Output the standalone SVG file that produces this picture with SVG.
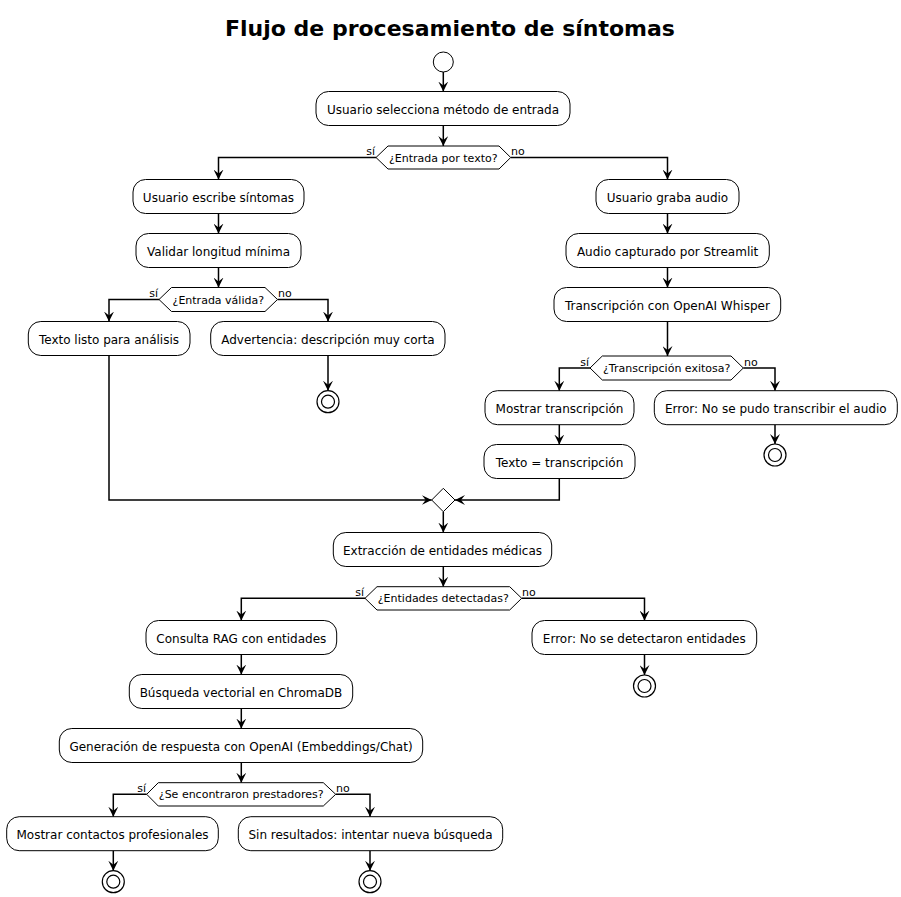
<svg xmlns="http://www.w3.org/2000/svg" width="901" height="897" viewBox="0 0 901 897">
<defs>
<marker id="arr" markerUnits="userSpaceOnUse" markerWidth="10" markerHeight="10" refX="10" refY="5" orient="auto">
<path d="M0,0 L10,5 L0,10 L4,5 Z" fill="#000"/>
</marker>
<style>
.box{fill:#fff;stroke:#000;stroke-width:1}
.dia{fill:#fff;stroke:#000;stroke-width:1}
.t{font-family:"DejaVu Sans",sans-serif;font-size:12px;fill:#000;text-anchor:middle}
.dt{font-family:"DejaVu Sans",sans-serif;font-size:11px;fill:#000;text-anchor:middle}
.lbl{font-family:"DejaVu Sans",sans-serif;font-size:11px;fill:#000}
.c{fill:none;stroke:#000;stroke-width:1.5;marker-end:url(#arr)}
.endo{fill:#fff;stroke:#000;stroke-width:1.2}
.endi{fill:#fff;stroke:#000;stroke-width:1.2}
</style>
</defs>
<rect width="901" height="897" fill="#fff"/>
<text x="450" y="36" font-family="DejaVu Sans, sans-serif" font-size="22" font-weight="bold" text-anchor="middle">Flujo de procesamiento de síntomas</text>

<g id="connectors">
<path class="c" d="M443.3,72 V91.5"/>
<path class="c" d="M443.3,125.5 V146"/>
<path class="c" d="M376,157.5 H218.5 V179.5"/>
<path class="c" d="M510.7,157.5 H667.5 V179.5"/>
<path class="c" d="M218.5,213.5 V233.5"/>
<path class="c" d="M218.5,267.5 V287.5"/>
<path class="c" d="M159,299.5 H109 V321.5"/>
<path class="c" d="M277.5,299.5 H328 V321.5"/>
<path class="c" d="M328,355.5 V390.7"/>
<path class="c" d="M109,355.5 V500 H431.7"/>
<path class="c" d="M667.5,213.5 V233.5"/>
<path class="c" d="M667.5,267.5 V287.5"/>
<path class="c" d="M667.5,321.5 V356"/>
<path class="c" d="M590,368 H559.3 V390.7"/>
<path class="c" d="M743.3,368 H775 V390.7"/>
<path class="c" d="M559.3,424.5 V444.5"/>
<path class="c" d="M559.3,478.5 V500 H455"/>
<path class="c" d="M775,424.5 V444"/>
<path class="c" d="M443.3,511.7 V532.5"/>
<path class="c" d="M443.3,566.5 V586.7"/>
<path class="c" d="M365,598.3 H241.3 V620.5"/>
<path class="c" d="M521.7,598.3 H644.5 V620.5"/>
<path class="c" d="M241.3,654.5 V674.5"/>
<path class="c" d="M241.3,708.5 V728.5"/>
<path class="c" d="M241.3,762.5 V782.7"/>
<path class="c" d="M146.7,794.3 H113.3 V816.7"/>
<path class="c" d="M335.7,794.3 H370 V816.7"/>
<path class="c" d="M644.5,654.5 V675"/>
<path class="c" d="M113.3,850.5 V870.7"/>
<path class="c" d="M370,850.5 V870.7"/>
<text class="lbl" x="375" y="155" text-anchor="end">sí</text>
<text class="lbl" x="511" y="155">no</text>
<text class="lbl" x="158" y="297" text-anchor="end">sí</text>
<text class="lbl" x="278" y="297">no</text>
<text class="lbl" x="589" y="366" text-anchor="end">sí</text>
<text class="lbl" x="744" y="366">no</text>
<text class="lbl" x="364" y="596" text-anchor="end">sí</text>
<text class="lbl" x="522" y="596">no</text>
<text class="lbl" x="146" y="792" text-anchor="end">sí</text>
<text class="lbl" x="336" y="792">no</text>
</g>

<g id="start"><circle cx="443.3" cy="62" r="10" class="box"/></g>

<g id="n1"><rect class="box" x="316" y="91.5" width="254" height="34" rx="12.5"/><text class="t" x="443" y="113.5">Usuario selecciona método de entrada</text></g>
<g id="d1"><polygon class="dia" points="376,157.5 388,146 499,146 510.7,157.5 499,169 388,169"/><text class="dt" x="443.3" y="161.5">¿Entrada por texto?</text></g>

<g id="n2"><rect class="box" x="133" y="179.5" width="171" height="34" rx="12.5"/><text class="t" x="218.5" y="201.5">Usuario escribe síntomas</text></g>
<g id="n3"><rect class="box" x="136" y="233.5" width="165" height="34" rx="12.5"/><text class="t" x="218.5" y="255.5">Validar longitud mínima</text></g>
<g id="d2"><polygon class="dia" points="159,299.5 171.5,287.5 265,287.5 277.5,299.5 265,311.5 171.5,311.5"/><text class="dt" x="218.3" y="303.5">¿Entrada válida?</text></g>
<g id="n4"><rect class="box" x="28.3" y="321.5" width="161.7" height="34" rx="12.5"/><text class="t" x="109" y="343.5">Texto listo para análisis</text></g>
<g id="n5"><rect class="box" x="210.7" y="321.5" width="234.3" height="34" rx="12.5"/><text class="t" x="327.9" y="343.5">Advertencia: descripción muy corta</text></g>
<g id="end1"><circle class="endo" cx="328" cy="401.7" r="11"/><circle class="endi" cx="328" cy="401.7" r="6.5"/></g>

<g id="n6"><rect class="box" x="596" y="179.5" width="143" height="34" rx="12.5"/><text class="t" x="667.5" y="201.5">Usuario graba audio</text></g>
<g id="n7"><rect class="box" x="566" y="233.5" width="203.3" height="34" rx="12.5"/><text class="t" x="667.6" y="255.5">Audio capturado por Streamlit</text></g>
<g id="n8"><rect class="box" x="554" y="287.5" width="226.7" height="34" rx="12.5"/><text class="t" x="667.4" y="309.5">Transcripción con OpenAI Whisper</text></g>
<g id="d3"><polygon class="dia" points="590,368 602.3,356 731,356 743.3,368 731,380 602.3,380"/><text class="dt" x="666.7" y="372">¿Transcripción exitosa?</text></g>
<g id="n9"><rect class="box" x="485" y="390.7" width="149" height="34" rx="12.5"/><text class="t" x="559.5" y="412.7">Mostrar transcripción</text></g>
<g id="n10"><rect class="box" x="484" y="444.5" width="151" height="34" rx="12.5"/><text class="t" x="559.5" y="466.5">Texto = transcripción</text></g>
<g id="n11"><rect class="box" x="654.3" y="390.7" width="243" height="34" rx="12.5"/><text class="t" x="775.8" y="412.7">Error: No se pudo transcribir el audio</text></g>
<g id="end2"><circle class="endo" cx="775" cy="455" r="11"/><circle class="endi" cx="775" cy="455" r="6.5"/></g>

<g id="merge"><polygon class="dia" points="431.7,500 443.3,488.3 455,500 443.3,511.7"/></g>
<g id="n12"><rect class="box" x="333.3" y="532.5" width="218.4" height="34" rx="12.5"/><text class="t" x="442.5" y="554.5">Extracción de entidades médicas</text></g>
<g id="d4"><polygon class="dia" points="365,598.3 377,586.7 509.7,586.7 521.7,598.3 509.7,610 377,610"/><text class="dt" x="443.3" y="602.3">¿Entidades detectadas?</text></g>
<g id="n13"><rect class="box" x="146" y="620.5" width="190.7" height="34" rx="12.5"/><text class="t" x="241.3" y="642.5">Consulta RAG con entidades</text></g>
<g id="n14"><rect class="box" x="129.3" y="674.5" width="223.4" height="34" rx="12.5"/><text class="t" x="241" y="696.5">Búsqueda vectorial en ChromaDB</text></g>
<g id="n15"><rect class="box" x="59.3" y="728.5" width="363.4" height="34" rx="12.5"/><text class="t" x="241" y="750.5">Generación de respuesta con OpenAI (Embeddings/Chat)</text></g>
<g id="d5"><polygon class="dia" points="146.7,794.3 158.3,782.7 323.3,782.7 335.7,794.3 323.3,806 158.3,806"/><text class="dt" x="241.2" y="798.3">¿Se encontraron prestadores?</text></g>
<g id="n16"><rect class="box" x="6.7" y="816.7" width="211.6" height="34" rx="12.5"/><text class="t" x="112.5" y="838.7">Mostrar contactos profesionales</text></g>
<g id="end3"><circle class="endo" cx="113.3" cy="881.7" r="11"/><circle class="endi" cx="113.3" cy="881.7" r="6.5"/></g>
<g id="n17"><rect class="box" x="238.3" y="816.7" width="264.4" height="34" rx="12.5"/><text class="t" x="370.5" y="838.7">Sin resultados: intentar nueva búsqueda</text></g>
<g id="end4"><circle class="endo" cx="370" cy="881.7" r="11"/><circle class="endi" cx="370" cy="881.7" r="6.5"/></g>
<g id="n18"><rect class="box" x="532" y="620.5" width="224.7" height="34" rx="12.5"/><text class="t" x="644.3" y="642.5">Error: No se detectaron entidades</text></g>
<g id="end5"><circle class="endo" cx="644.5" cy="686" r="11"/><circle class="endi" cx="644.5" cy="686" r="6.5"/></g>
</svg>
